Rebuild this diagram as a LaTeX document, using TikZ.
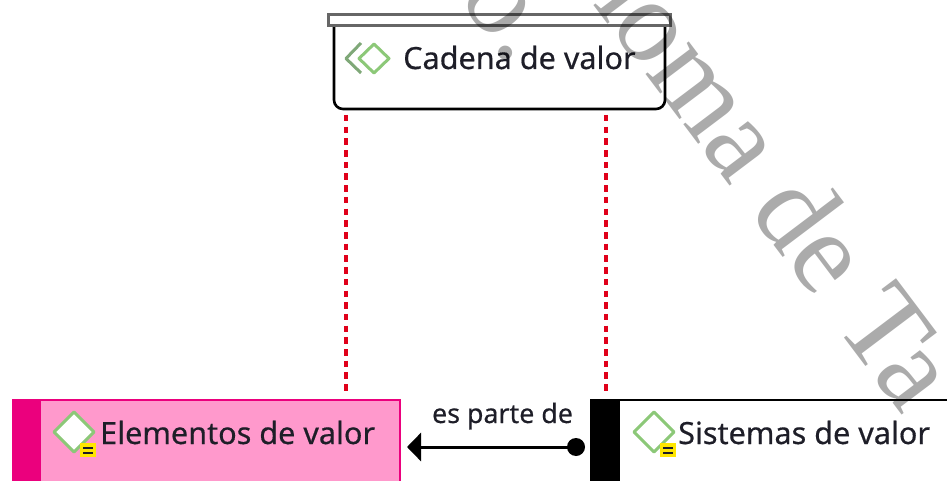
\documentclass[tikz,border=0pt]{standalone}
\usepackage{fontspec}
\setmainfont{Noto Sans}[FakeBold=0.45]
\newfontfamily\wmfont{Liberation Serif}
\usetikzlibrary{arrows.meta,calc}
\definecolor{grn}{HTML}{8CC878}
\definecolor{grngray}{HTML}{7FA878}
\definecolor{pinkfill}{HTML}{FF99CC}
\definecolor{pinkdark}{HTML}{EB007D}
\definecolor{dashred}{HTML}{E0001A}
\definecolor{ink}{HTML}{1E1E28}
\definecolor{yel}{HTML}{FFE600}
\tikzset{
 boxnode/.style={minimum width=#1,inner sep=0pt,outer sep=0pt,minimum height=82pt,anchor=north west},
 titletext/.style={font=\fontsize{30.6}{32}\selectfont,text=ink,inner sep=0pt,anchor=base west},
 dashline/.style={draw=dashred,line width=3.2pt,dash pattern=on 6.5pt off 5.2pt},
 wmtext/.style={font=\wmfont\fontsize{118}{118}\selectfont,text=black,text opacity=0.33,inner sep=0pt,rotate=-53,anchor=base west},
 diam/.style={draw=grn,line width=3pt,line join=round},
}
\newcommand{\badgeat}[2]{%
 \fill[yel] (#1-8,#2-7) rectangle (#1+8,#2+7);
 \draw[ink,line width=2.2pt] (#1-5,#2-2.2) -- (#1+5,#2-2.2) (#1-5,#2+2.8) -- (#1+5,#2+2.8);
}
\begin{document}
\begin{tikzpicture}[x=1pt,y=-1pt]
\useasboundingbox (0,0) rectangle (947,481);
\clip (0,0) rectangle (947,481);
% Cadena de valor
\node[boxnode=331pt] (cadena) at (334,25) {};
\draw[black,line width=2.6pt,rounded corners=9pt] (cadena.north west) |- ($(cadena.south)+(0,2)$) -| (cadena.north east);
\draw[draw=black!60,line width=3pt] (328,14.5) rectangle (670.5,25.5);
\draw[grngray,line width=3pt,line join=round] (361,43) -- (346,58.5) -- (361,73);
\draw[diam] (374,44) -- (389,58.5) -- (374,73) -- (359,58.5) -- cycle;
\node[titletext] (t1) at (403,69) {Cadena de valor};
% Elementos de valor
\node[boxnode=389pt,minimum height=84pt] (elementos) at (12,399) {};
\fill[pinkfill] (12,399) rectangle (401,483);
\fill[pinkdark] (12,399) rectangle (41,483);
\draw[pinkdark,line width=2pt] (12,400) -- (400,400) -- (400,483);
\draw[diam,fill=white] (74,412) -- (94,432) -- (74,452) -- (54,432) -- cycle;
\badgeat{88}{450}
\node[titletext] (t2) at (100,444) {Elementos de valor};
% Sistemas de valor
\node[boxnode=370pt,minimum height=84pt] (sistemas) at (590,399) {};
\fill[black] (590,399) rectangle (620,483);
\draw[black,line width=2.4pt] (590,400) -- (960,400);
\draw[diam] (654,412) -- (674,432) -- (654,452) -- (634,432) -- cycle;
\badgeat{668}{450}
\node[titletext] (t3) at (678,444) {Sistemas de valor};
% dependency lines
\coordinate (lx) at (346,0);
\coordinate (rx) at (606,0);
\draw[dashline,shorten >=5pt,shorten <=6pt] (cadena.south -| lx) ++(0,2) -- (elementos.north -| lx);
\draw[dashline,shorten >=5pt,shorten <=6pt] (cadena.south -| rx) ++(0,2) -- (sistemas.north -| rx);
% relation
\node[circle,fill=black,minimum size=18pt,inner sep=0pt] (dot) at (576,447) {};
\coordinate (tip) at (408,447);
\draw[black,line width=3pt,-{Triangle[length=14pt,width=28pt]},shorten >=-1pt] (dot.center) -- (tip);
\node[font=\fontsize{26.8}{28}\selectfont,text=ink,inner sep=0pt,anchor=base] (rel) at (502.5,423) {es parte de};
% watermark
\node[wmtext] (wmA) at (457,-2.5) {o.};
\node[wmtext] (wmB) at (573,-22) {noma de Ta};
\end{tikzpicture}
\end{document}
